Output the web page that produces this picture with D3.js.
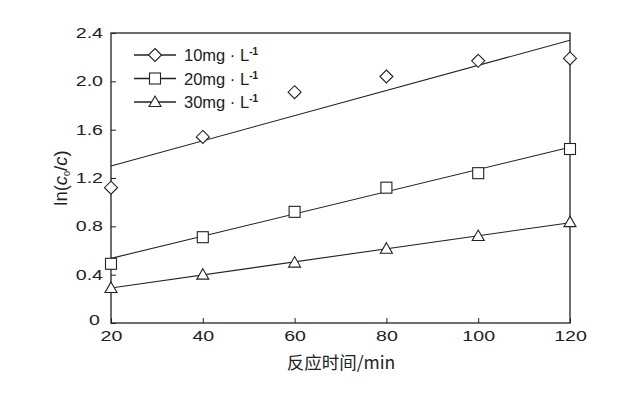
<!DOCTYPE html>
<html>
<head>
<meta charset="utf-8">
<script src="https://cdn.jsdelivr.net/npm/d3@7"></script>
<style>
  body { margin: 0; background: #fff; }
  svg text { font-family: "Liberation Sans", Arial, sans-serif; fill: #222; }
</style>
</head>
<body>
<div id="chart"></div>
<script>
// time points (min)
const times = [20, 40, 60, 80, 100, 120];
const seriesNames = ["10mg · L", "20mg · L", "30mg · L"];
const vals10 = [1.12, 1.54, 1.91, 2.04, 2.17, 2.19];
const vals20 = [0.49, 0.71, 0.92, 1.12, 1.24, 1.44];
const vals30 = [0.29, 0.40, 0.50, 0.615, 0.72, 0.835];
// fitted line values at t=20 and t=120
const fit10 = [1.30, 2.34];
const fit20 = [0.535, 1.455];
const fit30 = [0.29, 0.83];
const xTicks = [20, 40, 60, 80, 100, 120];
const yTicks = [0, 0.4, 0.8, 1.2, 1.6, 2.0, 2.4];

const W = 626, H = 397;
const margin = { top: 33, right: 56, bottom: 74, left: 111 };
const width = W - margin.left - margin.right;
const height = H - margin.top - margin.bottom;
const stretch = 1.4; // tick labels in the source are drawn wide

const svg = d3.select("#chart").append("svg")
  .attr("width", W).attr("height", H);
const g = svg.append("g").attr("transform", `translate(${margin.left},${margin.top})`);

const x = d3.scaleLinear().domain([20, 120]).range([0, width]);
const y = d3.scaleLinear().domain([0, 2.4]).range([height, 0]);

// frame
g.append("rect").attr("width", width).attr("height", height)
  .attr("fill", "none").attr("stroke", "#222").attr("stroke-width", 1.3);

// x ticks (inward)
const xAxis = g.append("g").attr("transform", `translate(0,${height})`)
  .call(d3.axisBottom(x).tickValues(xTicks).tickSize(-5).tickPadding(8).tickFormat(d3.format("d")));
xAxis.select(".domain").remove();
xAxis.selectAll("text").style("font-size", "14px").attr("fill", "#222")
  .attr("transform", `scale(${stretch},1)`);
xAxis.selectAll("line").attr("stroke", "#222");

const yAxis = g.append("g")
  .call(d3.axisLeft(y).tickValues(yTicks).tickSize(-5).tickPadding(8)
    .tickFormat(d => d === 0 ? "0" : d3.format(".1f")(d)));
yAxis.select(".domain").remove();
yAxis.selectAll("text").style("font-size", "14px").attr("fill", "#222")
  .attr("x", -8 / stretch).attr("transform", `scale(${stretch},1)`);
yAxis.selectAll("line").attr("stroke", "#222");
yAxis.selectAll(".tick").filter(d => d === 0).select("text")
  .attr("x", -11 / stretch).attr("dy", "0.1em");

const series = [
  { name: seriesNames[0], vals: vals10, fit: fit10, shape: "diamond" },
  { name: seriesNames[1], vals: vals20, fit: fit20, shape: "square" },
  { name: seriesNames[2], vals: vals30, fit: fit30, shape: "triangle" }
];

function marker(sel, shape) {
  if (shape === "diamond") {
    sel.append("path").attr("d", "M0,-6.5L6.5,0L0,6.5L-6.5,0Z");
  } else if (shape === "square") {
    sel.append("rect").attr("x", -5.5).attr("y", -5.5).attr("width", 11).attr("height", 11);
  } else {
    sel.append("path").attr("d", "M0,-6L6,4.5L-6,4.5Z");
  }
  sel.selectAll("*").attr("fill", "#fff").attr("stroke", "#222").attr("stroke-width", 1.1);
}

series.forEach(s => {
  g.append("line")
    .attr("x1", x(20)).attr("y1", y(s.fit[0]))
    .attr("x2", x(120)).attr("y2", y(s.fit[1]))
    .attr("stroke", "#222").attr("stroke-width", 1.1);
  s.vals.forEach((v, i) => {
    const m = g.append("g").attr("transform", `translate(${x(times[i])},${y(v)})`);
    marker(m, s.shape);
  });
});

// legend
const legend = svg.append("g").attr("transform", "translate(134,55)");
series.forEach((s, i) => {
  const row = legend.append("g").attr("transform", `translate(0,${i * 23.5})`);
  row.append("line").attr("x1", 0).attr("x2", 42).attr("stroke", "#222").attr("stroke-width", 1.6);
  marker(row.append("g").attr("transform", "translate(21,0)"), s.shape);
  const t = row.append("text").attr("x", 50).attr("y", 6).style("font-size", "16.5px");
  t.append("tspan").text(s.name);
  t.append("tspan").attr("dy", -6).style("font-size", "10px").style("font-weight", "bold").text("-1");
});

// axis titles
svg.append("text")
  .attr("x", 341).attr("y", 369)
  .attr("text-anchor", "middle").style("font-size", "17.5px")
  .style("font-family", "'Noto Sans CJK SC', sans-serif")
  .text("反应时间/min");

const yt = svg.append("text")
  .attr("transform", "translate(67,178) rotate(-90)")
  .attr("text-anchor", "middle").style("font-size", "18.5px");
yt.append("tspan").text("ln(");
yt.append("tspan").style("font-style", "italic").text("c");
yt.append("tspan").attr("dy", 3).style("font-size", "9px").text("0");
yt.append("tspan").attr("dy", -3).text("/");
yt.append("tspan").style("font-style", "italic").text("c");
yt.append("tspan").text(")");
</script>
</body>
</html>
